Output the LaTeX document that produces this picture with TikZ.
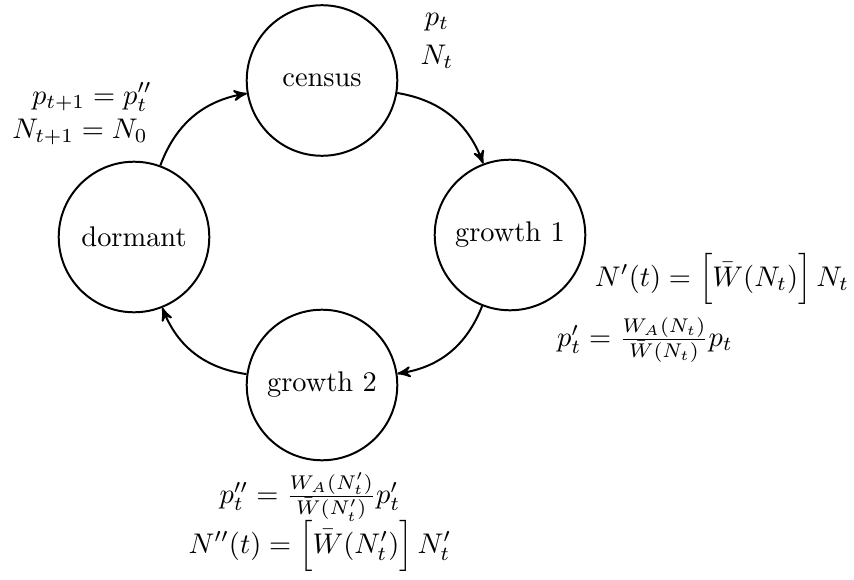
\documentclass[tikz,border=0pt]{standalone}
\usetikzlibrary{arrows}
\begin{document}
\begin{tikzpicture}[x=0.352pt,y=-0.352pt,
  state/.style={circle,draw,line width=0.7pt,minimum size=53pt,inner sep=0pt},
  flow/.style={->,>=stealth',line width=0.7pt,bend left=30},
  lab/.style={inner sep=0pt}]
\useasboundingbox (0,0) rectangle (854,580);
\node[state] (census) at (322,80.5) {census};
\node[state] (g1) at (510,235) {growth 1};
\node[state] (g2) at (322,385) {growth 2};
\node[state] (dorm) at (134,237) {dormant};
\draw[flow] (census) to (g1);
\draw[flow] (g1) to (g2);
\draw[flow] (g2) to (dorm);
\draw[flow] (dorm) to (census);
\node[lab] (pt) at (437,22) {$p_t$};
\node[lab] (Nt) at (437,57) {$N_t$};
\node[lab] (pnext) at (92,97) {$p_{t+1} = p''_t$};
\node[lab] (Nnext) at (80,132) {$N_{t+1} = N_0$};
\node[lab] (N1) at (722,279) {$N'(t) = \Big[\bar{W}(N_t)\Big]\, N_t$};
\node[lab] (p1) at (645,340) {$p'_t = \frac{W_A(N_t)}{\bar{W}(N_t)} p_t$};
\node[lab] (p2) at (310,497) {$p''_t = \frac{W_A(N'_t)}{\bar{W}(N'_t)} p'_t$};
\node[lab] (N2) at (320,546) {$N''(t) = \Big[\bar{W}(N'_t)\Big]\, N'_t$};
\end{tikzpicture}
\end{document}
